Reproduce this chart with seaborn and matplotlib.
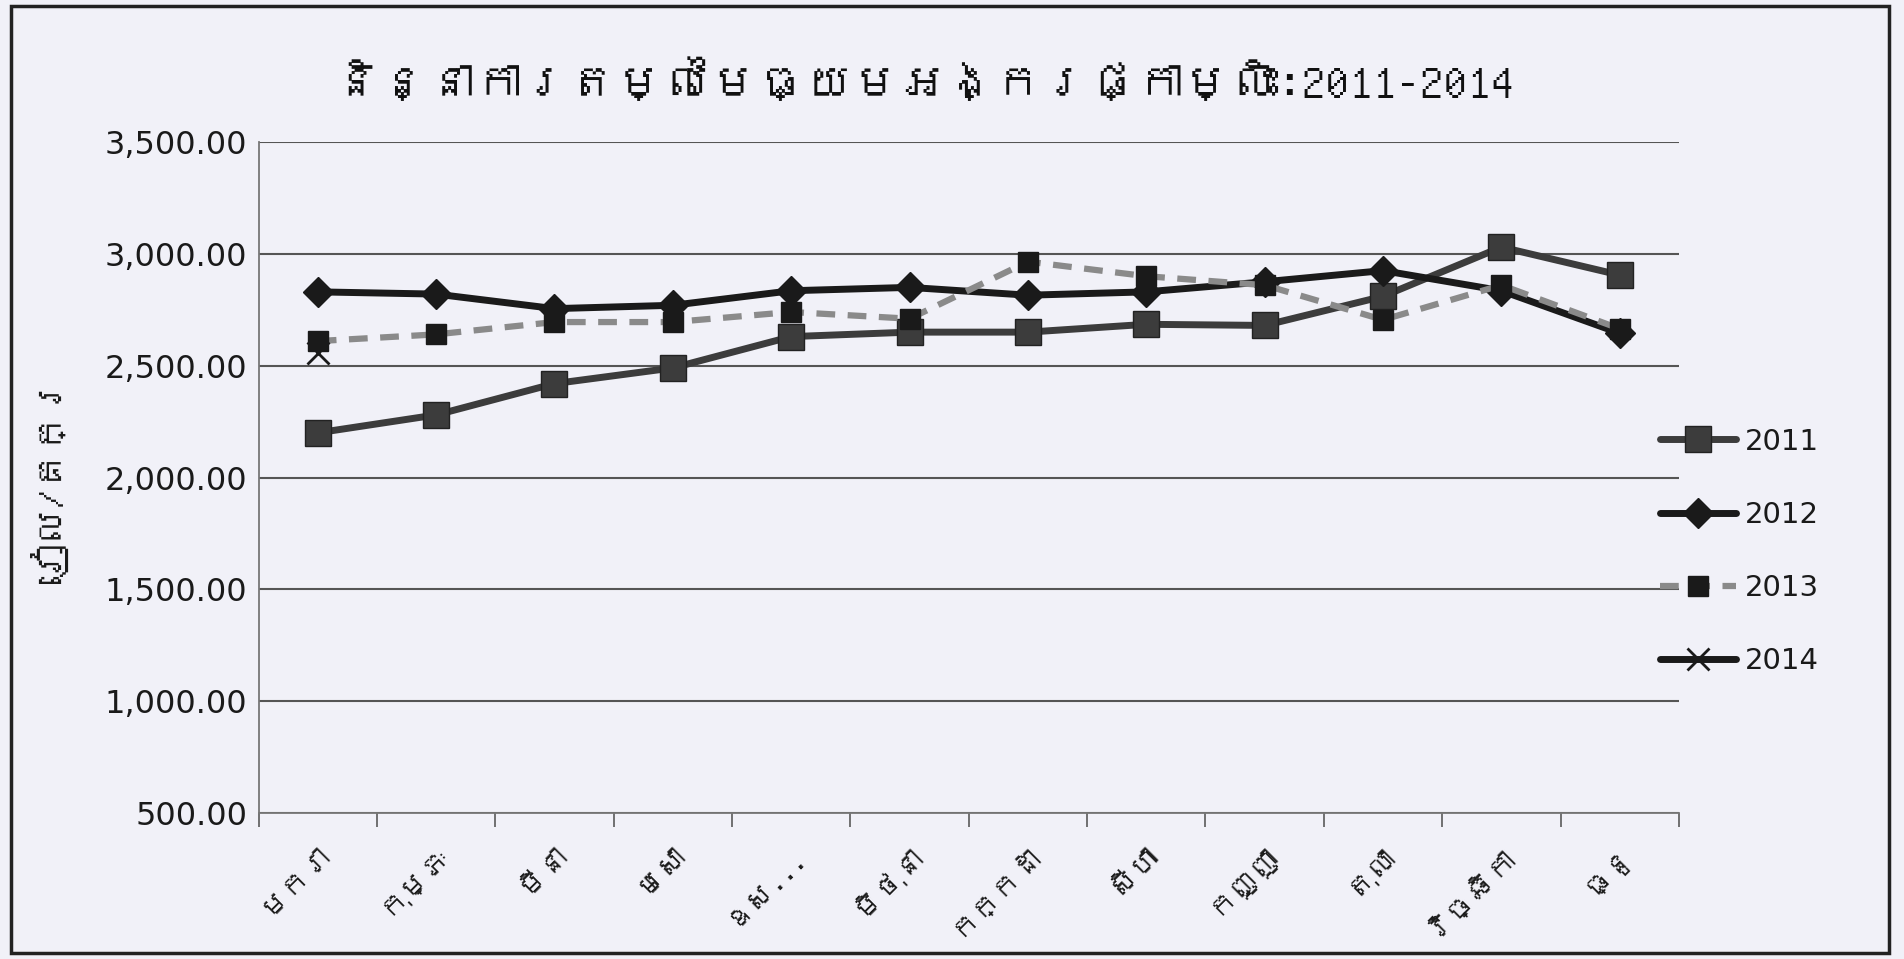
import numpy as np
import pandas as pd
import matplotlib
matplotlib.use("Agg")
import matplotlib.pyplot as plt
import seaborn as sns
from matplotlib import font_manager, ft2font
from matplotlib.patches import Rectangle
from matplotlib.ticker import FuncFormatter, FixedLocator

# ---------------- data ----------------
months = ["មករា", "កុម្ភៈ", "មីនា", "មេសា", "ឧស...", "មិថុនា",
          "កក្កដា", "សីហា", "កញ្ញា", "តុលា", "វិច្ឆិកា", "ធ្នូ"]
price_2011 = [2200, 2280, 2420, 2490, 2630, 2650, 2650, 2685, 2680, 2810, 3030, 2905]
price_2012 = [2830, 2820, 2755, 2770, 2835, 2850, 2815, 2830, 2875, 2925, 2835, 2645]
price_2013 = [2610, 2640, 2695, 2695, 2740, 2710, 2965, 2900, 2860, 2705, 2860, 2665]
price_2014 = [2555, np.nan, np.nan, np.nan, np.nan, np.nan,
              np.nan, np.nan, np.nan, np.nan, np.nan, np.nan]
series_names = ["2011", "2012", "2013", "2014"]
title_text = "និន្នាការតម្លៃមធ្យមអង្ករផ្កាម្លិះ:2011-2014"
ylabel_text = "រៀល/គក្រ"
yticks = [500, 1000, 1500, 2000, 2500, 3000, 3500]

# ---------------- fonts ----------------
khmer_family = None
for f in font_manager.fontManager.ttflist:
    try:
        ft = ft2font.FT2Font(f.fname)
        if 0x1780 in ft.get_charmap():
            khmer_family = f.name
            break
    except Exception:
        pass

sns.set_theme(style="white")
fams = ([khmer_family] if khmer_family else []) + ["DejaVu Sans"]
plt.rcParams["font.family"] = fams

bg = "#F1F1F8"
fig = plt.figure(figsize=(19.04, 9.59), dpi=100, facecolor=bg)
ax = fig.add_axes([0.1358, 0.152, 0.746, 0.700])
ax.set_facecolor(bg)

x = np.arange(len(months))
styles = [
    dict(color="#3c3c3c", lw=5.0, marker="s", ms=19, mfc="#3c3c3c", mec="#222222", ls="-"),
    dict(color="#1a1a1a", lw=5.0, marker="D", ms=15, mfc="#1a1a1a", mec="#1a1a1a", ls="-"),
    dict(color="#8a8a8a", lw=4.5, marker="s", ms=14, mfc="#1a1a1a", mec="#1a1a1a", ls=(0, (3, 2))),
    dict(color="#1a1a1a", lw=5.0, marker="x", ms=16, mfc="#1a1a1a", mec="#1a1a1a", ls="-", mew=2),
]
data = [price_2011, price_2012, price_2013, price_2014]
handles = []
for name, vals, st in zip(series_names, data, styles):
    df = pd.DataFrame({"x": x, "y": vals}).dropna()
    sns.lineplot(data=df, x="x", y="y", ax=ax, color=st["color"], linewidth=st["lw"],
                 marker=st["marker"], markersize=st["ms"], markerfacecolor=st["mfc"],
                 markeredgecolor=st["mec"], markeredgewidth=st.get("mew", 1),
                 linestyle=st["ls"], label=name, legend=False, zorder=3)
    handles.append(ax.lines[-1])

ax.set_xlim(-0.5, len(months) - 0.5)
ax.set_ylim(500, 3500)
ax.set_yticks(yticks)
ax.yaxis.set_major_formatter(FuncFormatter(lambda v, p: f"{v:,.2f}"))
ax.tick_params(axis="y", labelsize=23, length=0, pad=8, labelcolor="#1a1a1a")
for lab in ax.get_yticklabels():
    lab.set_family(["DejaVu Sans"])

ax.set_xticks(x)
ax.set_xticklabels(months, rotation=45, ha="right", rotation_mode="anchor", fontsize=21)
ax.tick_params(axis="x", which="major", length=0, pad=20, labelcolor="#1a1a1a")
ax.xaxis.set_minor_locator(FixedLocator(np.arange(-0.5, len(months), 1.0)))
ax.tick_params(axis="x", which="minor", length=10, width=1.3, color="#666666", direction="out", bottom=True)

ax.grid(axis="y", color="#555555", linewidth=1.5)
ax.grid(axis="x", visible=False)
ax.set_axisbelow(True)
for s in ["top", "right"]:
    ax.spines[s].set_visible(False)
for s in ["left", "bottom"]:
    ax.spines[s].set_color("#777777")
    ax.spines[s].set_linewidth(1.3)

ax.set_xlabel("")
ax.set_ylabel("")
fig.text(0.026, 0.50, ylabel_text, rotation=90, ha="center", va="center",
         fontsize=27, fontweight="bold", color="#1a1a1a")
fig.text(0.485, 0.915, title_text, ha="center", va="center",
         fontsize=34, fontweight="bold", color="#111111")

leg = fig.legend(handles=handles, labels=series_names, loc="center left",
                 bbox_to_anchor=(0.858, 0.425), frameon=False, fontsize=21,
                 handlelength=2.6, labelspacing=1.55, handletextpad=0.3, numpoints=1)
for t in leg.get_texts():
    t.set_family(["DejaVu Sans"])
    t.set_color("#1a1a1a")

fig.patches.append(Rectangle((0.006, 0.006), 0.986, 0.988, transform=fig.transFigure,
                             fill=False, edgecolor="#222222", linewidth=2.5))

fig.savefig("out.png", dpi=100, facecolor=bg)
